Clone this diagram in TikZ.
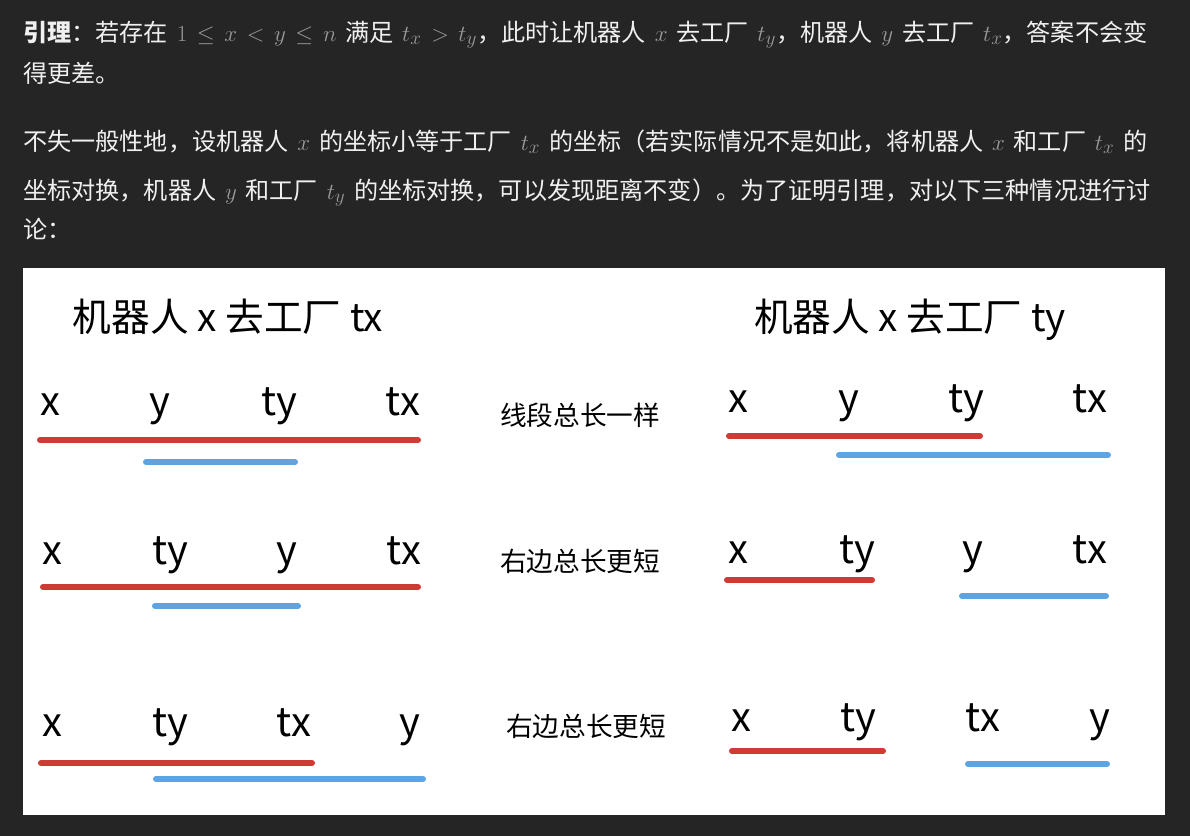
\documentclass[tikz,border=0pt]{standalone}
\usepackage{fontspec}
\setmainfont{Noto Sans CJK SC}
\usepackage{tikz}

\definecolor{pagebg}{HTML}{252525}
\definecolor{paper}{HTML}{F0F0F0}
\definecolor{mathgray}{HTML}{9A9A9A}
\definecolor{segred}{HTML}{D03A35}
\definecolor{segblue}{HTML}{5EA3E2}
% inline formula: grey, a bit larger, with some room on both sides
\newcommand{\mth}[1]{\hspace{2.5pt}{\color{mathgray}\fontsize{19}{22}\selectfont\thickmuskip=7.5mu$#1$}\hspace{2.5pt}}
% same, followed by a full-width comma
\newcommand{\mthc}[1]{\hspace{2.5pt}{\color{mathgray}\fontsize{19}{22}\selectfont\thickmuskip=7.5mu$#1$}}

\begin{document}
\begin{tikzpicture}[x=0.75pt,y=-0.75pt,
  para/.style={anchor=base west,inner sep=0pt,text=paper,
               font=\fontsize{18.1}{22}\selectfont},
  head/.style={anchor=base,inner sep=0pt,font=\fontsize{29}{33}\selectfont},
  lab/.style={anchor=base,inner sep=0pt,font=\fontsize{30}{34}\selectfont},
  note/.style={anchor=base,inner sep=0pt,font=\fontsize{20}{24}\selectfont},
  rseg/.style={draw=segred,line width=4.5pt,line cap=round},
  bseg/.style={draw=segblue,line width=4.5pt,line cap=round}]
\fill[pagebg] (0,0) rectangle (1190,836);
\useasboundingbox (0,0) rectangle (1190,836);
\fill[white] (23,268) rectangle (1165,815);
% text above the panel
\node[para] (lemma) at (23,41) {\textbf{引理}：若存在 \mth{1\le x<y\le n} 满足 \mthc{t_x>t_y}，此时让机器人 \mth{x} 去工厂 \mthc{t_y}，机器人 \mth{y} 去工厂 \mthc{t_x}，答案不会变};
\node[para] (lemma2) at (23,82) {得更差。};
\node[para] (wlog1) at (23,150) {不失一般性地，设机器人 \mth{x} 的坐标小等于工厂 \mth{t_x} 的坐标（若实际情况不是如此，将机器人 \mth{x} 和工厂 \mth{t_x} 的};
\node[para] (wlog2) at (23,199) {坐标对换，机器人 \mth{y} 和工厂 \mth{t_y} 的坐标对换，可以发现距离不变）。为了证明引理，对以下三种情况进行讨};
\node[para] (wlog3) at (23,238) {论：};
% headings
\node[head] (hl) at (228,331) {机器人 x 去工厂 tx};
\node[head] (hr) at (910,331) {机器人 x 去工厂 ty};
% case 1
\node[lab] (a1) at (50,415) {x};
\node[lab] (a2) at (160,415) {y};
\node[lab] (a3) at (279,415) {ty};
\node[lab] (a4) at (403,415) {tx};
\node[note] (n1) at (580,425) {线段总长一样};
\node[lab] (b1) at (738,412) {x};
\node[lab] (b2) at (849,412) {y};
\node[lab] (b3) at (966,412) {ty};
\node[lab] (b4) at (1090,412) {tx};
\draw[rseg] (40,440) -- (418,440);
\draw[bseg] (146,462) -- (295,462);
\draw[rseg] (729,436) -- (980,436);
\draw[bseg] (839,455) -- (1108,455);
% case 2
\node[lab] (c1) at (52,564) {x};
\node[lab] (c2) at (170,564) {ty};
\node[lab] (c3) at (287,564) {y};
\node[lab] (c4) at (404,564) {tx};
\node[note] (n2) at (580,571) {右边总长更短};
\node[lab] (d1) at (738,563) {x};
\node[lab] (d2) at (857,563) {ty};
\node[lab] (d3) at (973,563) {y};
\node[lab] (d4) at (1090,563) {tx};
\draw[rseg] (43,587) -- (418,587);
\draw[bseg] (155,606) -- (298,606);
\draw[rseg] (727,580) -- (872,580);
\draw[bseg] (962,596) -- (1106,596);
% case 3
\node[lab] (e1) at (52,736) {x};
\node[lab] (e2) at (170,736) {ty};
\node[lab] (e3) at (294,736) {tx};
\node[lab] (e4) at (410,736) {y};
\node[note] (n3) at (586,736) {右边总长更短};
\node[lab] (f1) at (741,731) {x};
\node[lab] (f2) at (858,731) {ty};
\node[lab] (f3) at (983,731) {tx};
\node[lab] (f4) at (1100,731) {y};
\draw[rseg] (41,763) -- (312,763);
\draw[bseg] (156,779) -- (423,779);
\draw[rseg] (732,751) -- (883,751);
\draw[bseg] (968,764) -- (1107,764);
\end{tikzpicture}
\end{document}
